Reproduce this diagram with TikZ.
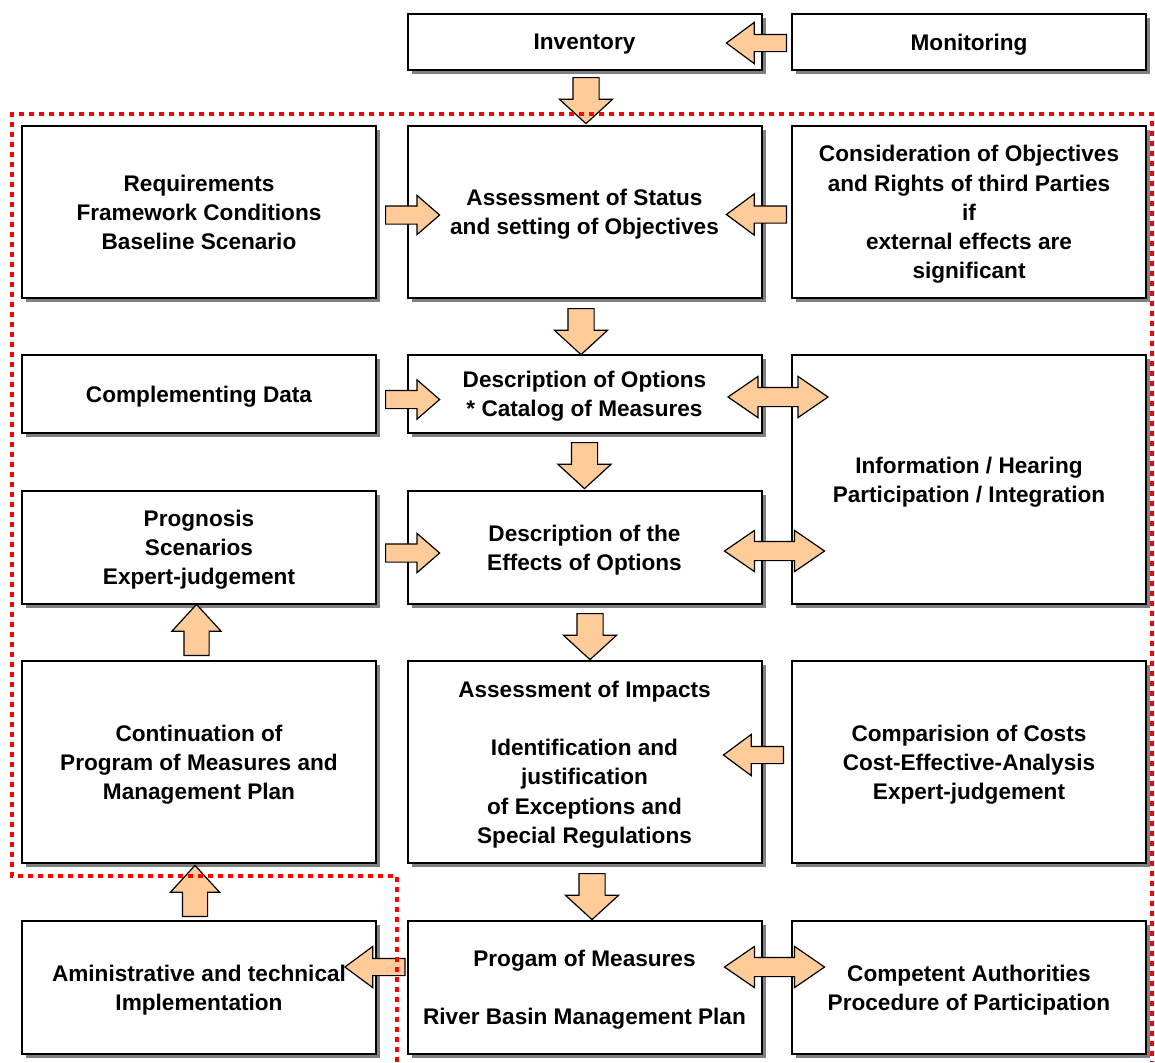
\documentclass[tikz,border=0pt]{standalone}
\usepackage{fontspec}
\setmainfont{Liberation Sans}
\usetikzlibrary{shapes.arrows,shadows,calc}
\definecolor{arrowfill}{RGB}{255,204,153}

\tikzset{
	box/.style={draw=black, line width=1pt, fill=white, align=center, inner sep=0pt, text depth=0pt,
		font=\bfseries\fontsize{11.3}{14.6}\selectfont, minimum width=177pt,
		drop shadow={shadow xshift=2pt, shadow yshift=-2pt, fill=black!50, opacity=1}},
	fat/.style={draw=black, line width=0.6pt, fill=arrowfill, inner xsep=0pt},
	downarrow/.style={fat, single arrow, rotate=-90, anchor=tail, minimum height=23pt,
		inner ysep=6.25pt, single arrow head extend=6.75pt, single arrow tip angle=95},
	uparrow/.style={fat, single arrow, rotate=90, anchor=tail, minimum height=25.5pt,
		inner ysep=6pt, single arrow head extend=6pt, single arrow tip angle=85},
	rightarrow/.style={fat, single arrow, anchor=tail, minimum height=27pt,
		inner ysep=4.25pt, single arrow head extend=5.25pt, single arrow tip angle=82},
	leftarrow/.style={fat, single arrow, rotate=180, anchor=tail, minimum height=30pt,
		inner ysep=4pt, single arrow head extend=6pt, single arrow tip angle=73},
	bothways/.style={fat, double arrow, minimum height=50pt,
		inner ysep=4.5pt, double arrow head extend=5.5pt, double arrow tip angle=69},
	border/.style={red, line width=2.4pt, dash pattern=on 2.5pt off 2.5pt}
}

\begin{document}
\begin{tikzpicture}[x=0.5pt, y=0.5pt]
	\useasboundingbox (0,0) rectangle (1155,-1062);

	% top row
	\node[box, minimum height=28pt] (inv) at (584.5,-42) {Inventory};
	\node[box, minimum height=28pt] (mon) at (969,-42) {Monitoring};

	% boxes, column by column
	\node[box, minimum height=86pt] (req) at (199,-212) {Requirements\\Framework Conditions\\Baseline Scenario};
	\node[box, minimum height=39pt] (compl) at (199,-394) {Complementing Data};
	\node[box, minimum height=56.5pt] (prog) at (199,-547.5) {Prognosis\\Scenarios\\Expert-judgement};
	\node[box, minimum height=101pt] (cont) at (199,-762) {Continuation of\\Program of Measures and\\Management Plan};
	\node[box, minimum height=66.5pt] (admin) at (199,-987.5) {Aministrative and technical\\Implementation};

	\node[box, minimum height=86pt] (status) at (584.5,-212) {Assessment of Status\\and setting of Objectives};
	\node[box, minimum height=39pt] (options) at (584.5,-394) {Description of Options\\* Catalog of Measures};
	\node[box, minimum height=56.5pt] (effects) at (584.5,-547.5) {Description of the\\Effects of Options};
	\node[box, minimum height=101pt] (impacts) at (584.5,-762) {Assessment of Impacts\\[14.6pt]Identification and\\justification\\of Exceptions and\\Special Regulations};
	\node[box, minimum height=66.5pt] (measures) at (584.5,-987.5) {Progam of Measures\\[14.6pt]River Basin Management Plan};

	\node[box, minimum height=86pt] (cons) at (969,-212) {Consideration of Objectives\\and Rights of third Parties\\if\\external effects are\\significant};
	\node[box, minimum height=124.5pt] (info) at (969,-479.5) {Information / Hearing\\Participation / Integration};
	\node[box, minimum height=101pt] (costs) at (969,-762) {Comparision of Costs\\Cost-Effective-Analysis\\Expert-judgement};
	\node[box, minimum height=66.5pt] (auth) at (969,-987.5) {Competent Authorities\\Procedure of Participation};

	% block arrows
	\node[leftarrow] (monarrow) at ($(mon.west)+(-4,-1)$) {};
	\node[downarrow] (invarrow) at ($(inv.south)+(1.5,-6)$) {};
	\node[rightarrow] (reqarrow) at ($(req.east)+(8,-3)$) {};
	\node[leftarrow] (consarrow) at ($(cons.west)+(-4,-2.5)$) {};
	\node[downarrow] (statusarrow) at ($(status.south)+(-3.5,-9)$) {};
	\node[rightarrow] (complarrow) at ($(compl.east)+(8,-5.5)$) {};
	\node[downarrow] (optionsarrow) at ($(options.south)+(0,-8)$) {};
	\node[rightarrow] (progarrow) at ($(prog.east)+(8,-5.5)$) {};
	\node[downarrow] (effectsarrow) at ($(effects.south)+(5.5,-8)$) {};
	\node[downarrow] (impactsarrow) at ($(impacts.south)+(7.5,-9)$) {};
	\node[leftarrow] (costsarrow) at ($(costs.west)+(-7,7)$) {};
	\node[leftarrow] (measuresarrow) at ($(measures.west)+(-1,20.5)$) {};
	\node[uparrow] (contarrow) at ($(cont.north)+(-2.5,4)$) {};
	\node[uparrow] (adminarrow) at ($(admin.north)+(-4,3)$) {};

	\node[bothways] (optionsinfo) at ($(options.east)+(15.5,-3)$) {};
	\node[bothways] (effectsinfo) at ($(effects.east)+(12,-3.5)$) {};
	\node[bothways] (measuresauth) at ($(measures.east)+(12,20.5)$) {};

	% dotted frame
	\draw[border] (397,-1062) -- (397,-876) -- (12,-876) -- (12,-114) -- (1152,-114) -- (1152,-1062);
\end{tikzpicture}
\end{document}
